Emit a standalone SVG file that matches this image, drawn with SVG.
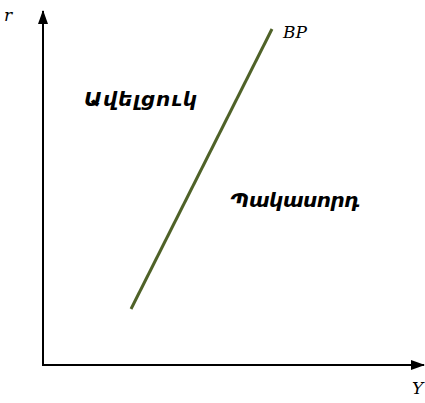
<svg xmlns="http://www.w3.org/2000/svg" width="425" height="403" viewBox="0 0 425 403">
<style>
.ax{stroke:#000;stroke-width:2;fill:none}
.lbl{font-family:"DejaVu Serif",serif;font-style:italic;font-size:17px;fill:#000}
.arm{font-family:"DejaVu Sans",sans-serif;font-style:italic;font-weight:bold;font-size:20px;fill:#000}
</style>
<defs>
<marker id="ah" viewBox="0 0 14 10" refX="13" refY="5" markerWidth="14" markerHeight="10" markerUnits="userSpaceOnUse" orient="auto"><path d="M0,0 L14,5 L0,10 z" fill="#000"/></marker>
</defs>
<g id="connectors">
<line class="ax" x1="43" y1="366" x2="43" y2="11" marker-end="url(#ah)"/>
<line class="ax" x1="42" y1="365" x2="424" y2="365" marker-end="url(#ah)"/>
<line x1="131" y1="309" x2="272" y2="29" stroke="#4f6228" stroke-width="3"/>
</g>
<g id="labels">
<text class="lbl" x="4" y="21">r</text>
<text class="lbl" x="283" y="38">BP</text>
<text class="lbl" x="412" y="394">Y</text>
<text class="arm" x="84" y="106" textLength="113">Ավելցուկ</text>
<text class="arm" x="230" y="207" textLength="130">Պակասորդ</text>
</g>
</svg>
